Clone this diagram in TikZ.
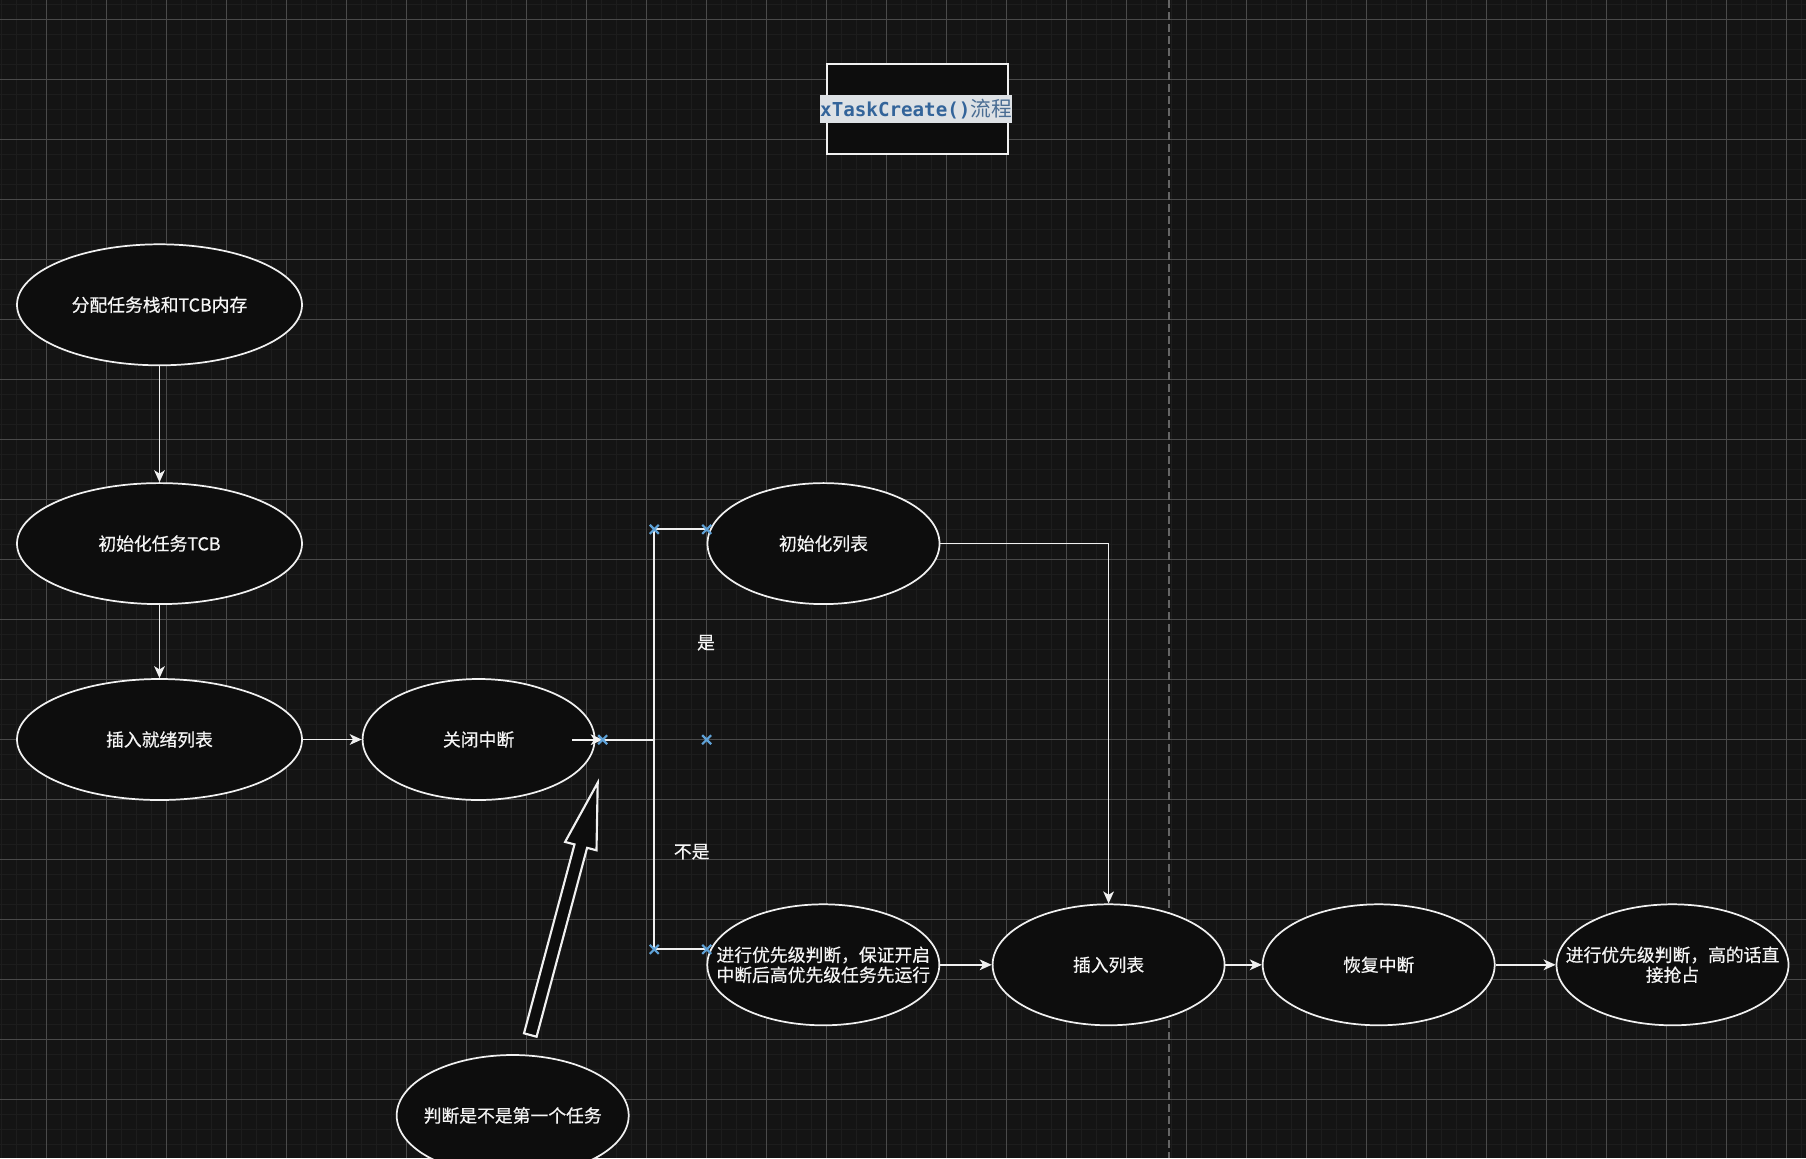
\documentclass[tikz,border=0pt]{standalone}
\usepackage{fontspec}
\setmainfont{Noto Sans CJK SC}[FakeBold=0.5]
\newfontfamily\cjk{Noto Sans CJK SC}
\newfontfamily\monob{DejaVu Sans Mono}
\usetikzlibrary{arrows.meta,shapes.geometric}
\definecolor{bgc}{HTML}{141414}
\definecolor{minorc}{HTML}{1D1D1D}
\definecolor{majorc}{HTML}{4A4A4A}
\definecolor{ellfill}{HTML}{0D0D0D}
\definecolor{strokec}{HTML}{F0F0F0}
\definecolor{txtc}{HTML}{F5F5F5}
\definecolor{xcol}{HTML}{5FA2D8}
\definecolor{hlc}{HTML}{DDE1E5}
\definecolor{titlec}{HTML}{33649A}
\definecolor{titlecj}{HTML}{4A6D93}
\definecolor{dashc}{HTML}{666666}
\tikzset{
  ell/.style={ellipse, draw=strokec, fill=ellfill, line width=1.3pt,
    minimum width=174pt, minimum height=90.75pt, inner sep=0pt},
  wideell/.style={minimum width=213.75pt},
  lab/.style={text=txtc, font=\fontsize{13.35pt}{15pt}\selectfont, align=center, inner sep=0pt},
  conn/.style={draw=strokec, line width=1.3pt, -{Stealth[length=9pt,width=8pt,inset=2.5pt]}},
  brk/.style={draw=strokec, line width=1.7pt},
  bluex/.pic={\draw[xcol, line width=1.6pt] (-4.5,-4.5) -- (4.5,4.5) (-4.5,4.5) -- (4.5,-4.5);}
}
\begin{document}
\begin{tikzpicture}[x=0.75pt,y=-0.75pt]
\useasboundingbox (0,0) rectangle (1806,1158);
\clip (0,0) rectangle (1806,1158);
\fill[bgc] (0,0) rectangle (1806,1158);
% grid
\foreach \x in {1.3,16.3,...,1806} \draw[minorc, line width=0.75pt] (\x,0) -- (\x,1158);
\foreach \y in {4.3,19.3,...,1158} \draw[minorc, line width=0.75pt] (0,\y) -- (1806,\y);
\foreach \x in {46.3,106.3,...,1806} \draw[majorc, line width=0.75pt] (\x,0) -- (\x,1158);
\foreach \y in {19.3,79.3,...,1158} \draw[majorc, line width=0.75pt] (0,\y) -- (1806,\y);
% dashed divider
\draw[dashc, line width=1.5pt, dash pattern=on 6pt off 3pt] (1169.3,0) -- (1169.3,1158);

% title
\node[draw=strokec, fill=ellfill, line width=1.3pt, minimum width=135.3pt, minimum height=67.5pt, inner sep=0pt] (title) at (917.5,109.3) {};
\node[fill=hlc, inner xsep=0.5pt, inner ysep=0pt, minimum height=21pt] (titlet) at (916,109.3)
  {\monob\bfseries\fontsize{14.4pt}{16pt}\selectfont\color{titlec}xTaskCreate()\cjk\mdseries\fontsize{15.5pt}{16pt}\selectfont\color{titlecj}流程};

% ellipses
\node[ell, wideell] (e1) at (159.5,304.8) {};
\node[lab] (e1t) at (e1.center) {分配任务栈和TCB内存};
\node[ell, wideell] (e2) at (159.5,543.6) {};
\node[lab] (e2t) at (e2.center) {初始化任务TCB};
\node[ell, wideell] (e3) at (159.5,739.5) {};
\node[lab] (e3t) at (e3.center) {插入就绪列表};
\node[ell] (e4) at (478.6,739.5) {};
\node[lab] (e4t) at (e4.center) {关闭中断};
\node[ell] (e5) at (823.5,543.6) {};
\node[lab] (e5t) at (e5.center) {初始化列表};
\node[ell] (e6) at (823.3,964.8) {};
\node[lab] (e6t) at (e6.center) {进行优先级判断，保证开启\\中断后高优先级任务先运行};
\node[ell] (e7) at (1108.6,964.8) {};
\node[lab] (e7t) at (e7.center) {插入列表};
\node[ell] (e8) at (1378.7,964.8) {};
\node[lab] (e8t) at (e8.center) {恢复中断};
\node[ell] (e9) at (1672.5,964.8) {};
\node[lab] (e9t) at (e9.center) {进行优先级判断，高的话直\\接抢占};
\node[ell] (e10) at (512.7,1115.5) {};
\node[lab] (e10t) at (e10.center) {判断是不是第一个任务};

% labels
\node[lab] (lyes) at (706,642.7) {是};
\node[lab] (lno) at (691.7,851.7) {不是};

% connectors
\draw[conn] (e1) -- (e2);
\draw[conn] (e2) -- (e3);
\draw[conn] (e3) -- (e4);
\draw[conn] (e5.east) -| (e7.north);
\draw[conn] (e6.east) -- (e7.west);
\draw[conn] (e7) -- (e8);
\draw[conn] (e8) -- (e9);

% branch bracket
\coordinate (c0) at (572.3,739.7);
\coordinate (m0) at (602.7,739.7);
\coordinate (b0) at (654.3,739.7);
\coordinate (bt) at (654.3,529.3);
\coordinate (bb) at (654.3,949.3);
\coordinate (mt) at (706.7,529.3);
\coordinate (mm) at (706.7,739.7);
\coordinate (mb) at (706.7,949.3);
\draw[conn, draw=strokec!80] (c0) -- (m0);
\draw[brk] (m0) -- (b0);
\draw[brk] (bt) -- (bb);
\draw[brk] (bt) -- (mt);
\draw[brk] (bb) -- (mb);
\foreach \p in {m0,bt,mt,mm,bb,mb} \pic at (\p) {bluex};

% block arrow
\draw[strokec, fill=ellfill, line width=1.6pt, line join=miter]
  (524.0,1033.3) -- (574.5,844.4) -- (565.1,841.9) -- (597.7,782.7)
  -- (596.5,850.3) -- (587.1,847.8) -- (536.6,1036.7) -- cycle;
\end{tikzpicture}
\end{document}
